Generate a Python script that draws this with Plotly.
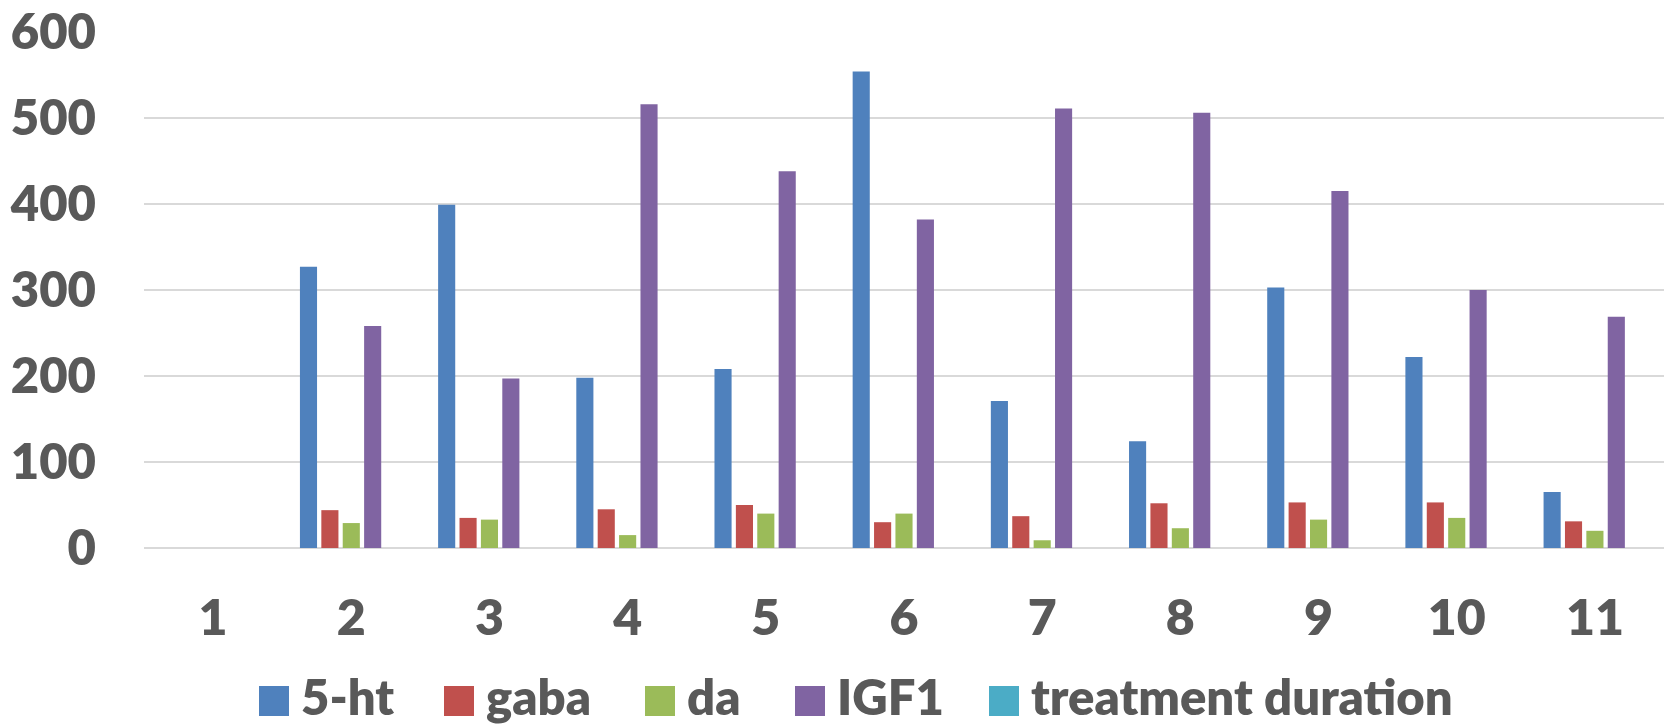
import plotly.graph_objects as go

# Category labels and measured series values
categories = [str(i) for i in range(1, 12)]
ht5 = [None, 327, 399, 198, 208, 554, 171, 124, 303, 222, 65]
gaba = [None, 44, 35, 45, 50, 30, 37, 52, 53, 53, 31]
da = [None, 29, 33, 15, 40, 40, 9, 23, 33, 35, 20]
igf1 = [None, 258, 197, 516, 438, 382, 511, 506, 415, 300, 269]
treatment_duration = [None] * 11
series_names = ["5-ht", "gaba", "da", "IGF1", "treatment duration"]
y_ticks = [0, 100, 200, 300, 400, 500, 600]

series_values = [ht5, gaba, da, igf1, treatment_duration]
colors = ["#4F81BD", "#C0504D", "#9BBB59", "#8064A2", "#4BACC6"]

W, H = 1664, 727
ML, MR, MT, MB = 144, 0, 32, 179
PW, PH = W - ML - MR, H - MT - MB
FONT = "Lato, 'Open Sans', sans-serif"
GREY = "#595959"


def px_x(x):
    return (x - ML) / PW


def px_y(y):
    return (H - MB - y) / PH


fig = go.Figure()
for name, vals, col in zip(series_names, series_values, colors):
    fig.add_trace(go.Bar(
        x=categories, y=vals, name=name,
        marker=dict(color=col, line=dict(width=0)),
        showlegend=False,
    ))

# Legend drawn as large colour squares with labels underneath the chart
legend_sq_left = [259, 444, 645, 795, 989]
sq_size = 30
sq_bottom = 716
shapes = []
annotations = []
for name, col, left in zip(series_names, colors, legend_sq_left):
    shapes.append(dict(
        type="rect", xref="paper", yref="paper",
        x0=px_x(left), x1=px_x(left + sq_size),
        y0=px_y(sq_bottom), y1=px_y(sq_bottom - sq_size),
        fillcolor=col, line=dict(width=0),
    ))
    annotations.append(dict(
        xref="paper", yref="paper",
        x=px_x(left + sq_size + 11), y=px_y(H - 1),
        xanchor="left", yanchor="bottom",
        text=name, showarrow=False, borderpad=0,
        font=dict(family=FONT, size=49, color=GREY, weight=800),
    ))

fig.update_layout(
    width=W, height=H,
    margin=dict(l=ML, r=MR, t=MT, b=MB, pad=0),
    paper_bgcolor="white", plot_bgcolor="white",
    barmode="group", bargap=0.226, bargroupgap=0.2,
    shapes=shapes, annotations=annotations,
    showlegend=False,
    xaxis=dict(
        type="category",
        showgrid=False, zeroline=False, showline=False,
        ticks="", ticklabelstandoff=36,
        tickfont=dict(family=FONT, size=50, color=GREY, weight=800),
    ),
    yaxis=dict(
        range=[0, 600], tickvals=y_ticks,
        showgrid=True, gridcolor="#D9D9D9", gridwidth=2,
        zeroline=True, zerolinecolor="#D9D9D9", zerolinewidth=2,
        showline=False, ticks="", ticklabelstandoff=47,
        tickfont=dict(family=FONT, size=49, color=GREY, weight=800),
    ),
)

fig.write_html("out.html")
